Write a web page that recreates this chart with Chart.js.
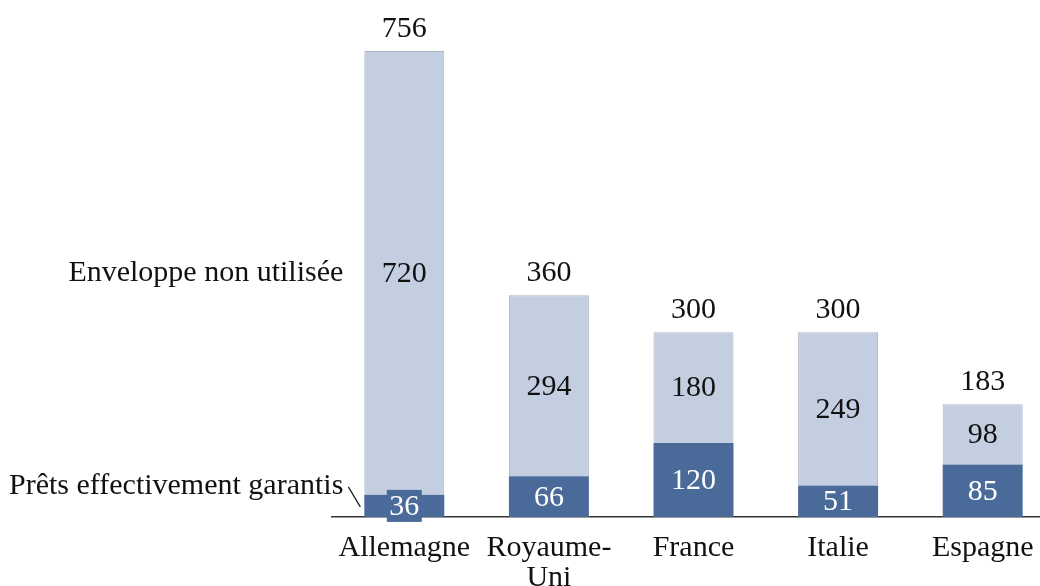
<!DOCTYPE html>
<html>
<head>
<meta charset="utf-8">
<script src="https://cdn.jsdelivr.net/npm/chart.js@4/dist/chart.umd.min.js"></script>
<style>
  html, body { margin: 0; padding: 0; background: #fff; overflow: hidden; }
  #wrap { width: 1056px; height: 586px; }
</style>
</head>
<body>
<div id="wrap"><canvas id="myBarChart" width="1056" height="586"></canvas></div>
<script>
// Prêts garantis vs enveloppe non utilisée, par pays
var categories = ["Allemagne", ["Royaume-", "Uni"], "France", "Italie", "Espagne"];
var seriesNames = ["Prêts effectivement garantis", "Enveloppe non utilisée"];
var pretsGarantis = [36, 66, 120, 51, 85];
var enveloppeNonUtilisee = [720, 294, 180, 249, 98];
var yMax = 800;

var FONT = "30px 'Liberation Serif', serif";
var DARK = "#4a6a9a";
var LIGHT = "#c3cee0";

// draws the values in the bars, the totals and the series names
var barLabels = {
  id: "barLabels",
  afterDatasetsDraw: function (chart) {
    var ctx = chart.ctx;
    ctx.save();
    ctx.font = FONT;
    ctx.textAlign = "center";
    ctx.textBaseline = "middle";

    chart.data.datasets.forEach(function (ds, i) {
      chart.getDatasetMeta(i).data.forEach(function (bar, j) {
        var mid = (bar.y + bar.base) / 2;
        var txt = String(ds.data[j]);
        if (Math.abs(bar.base - bar.y) < 30) {
          var w = ctx.measureText(txt).width + 5;
          ctx.fillStyle = ds.backgroundColor;
          ctx.fillRect(bar.x - w / 2, mid - 16, w, 32);
        }
        ctx.fillStyle = i === 0 ? "#fff" : "#111";
        ctx.fillText(txt, bar.x, mid + 1);
      });
    });

    var top = chart.getDatasetMeta(1).data;
    ctx.fillStyle = "#111";
    top.forEach(function (bar, j) {
      ctx.fillText(String(pretsGarantis[j] + enveloppeNonUtilisee[j]), bar.x, bar.y - 22);
    });

    var b0 = chart.getDatasetMeta(0).data[0];
    var b1 = top[0];
    var left = b0.x - b0.width / 2;
    ctx.textAlign = "right";
    ctx.fillText(seriesNames[1], left - 21, (b1.y + b1.base) / 2);
    ctx.fillText(seriesNames[0], left - 21, b0.y - 9);

    ctx.strokeStyle = "#222";
    ctx.lineWidth = 1.3;
    ctx.beginPath();
    ctx.moveTo(left - 16, b0.y - 8);
    ctx.lineTo(left - 4, b0.y + 12);
    ctx.stroke();
    ctx.restore();
  },
};

var ctx = document.getElementById("myBarChart");
new Chart(ctx, {
  type: "bar",
  data: {
    labels: categories,
    datasets: [
      {
        label: seriesNames[0],
        data: pretsGarantis,
        backgroundColor: DARK,
        borderWidth: 0,
      },
      {
        label: seriesNames[1],
        data: enveloppeNonUtilisee,
        backgroundColor: LIGHT,
        borderColor: "#aab4c6",
        borderWidth: 1,
      },
    ],
  },
  options: {
    responsive: false,
    animation: false,
    barPercentage: 0.553,
    categoryPercentage: 1,
    layout: {
      padding: { left: 332, right: 1, top: 24, bottom: 0 },
    },
    scales: {
      x: {
        stacked: true,
        grid: { display: false, drawTicks: false },
        border: { display: true, color: "#333", width: 1.5 },
        ticks: {
          color: "#111",
          padding: 17,
          maxRotation: 0,
          autoSkip: false,
          font: { family: "'Liberation Serif', serif", size: 30, lineHeight: 0.97 },
        },
        afterFit: function (scale) {
          scale.height = 69;
        },
      },
      y: {
        stacked: true,
        display: false,
        min: 0,
        max: yMax,
      },
    },
    plugins: {
      legend: { display: false },
      tooltip: { enabled: false },
    },
  },
  plugins: [barLabels],
});
</script>
</body>
</html>
